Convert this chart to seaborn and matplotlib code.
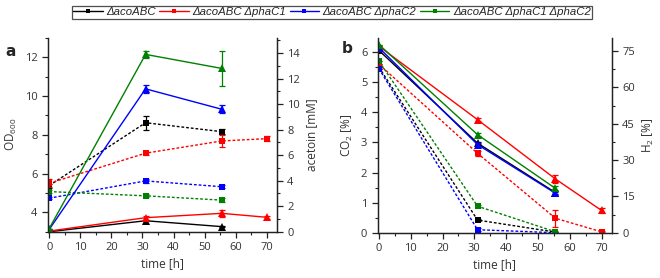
import numpy as np
import pandas as pd
import seaborn as sns
import matplotlib.pyplot as plt
from matplotlib.lines import Line2D
from matplotlib.ticker import MultipleLocator

sns.set_style("ticks")
plt.rcParams["font.family"] = ["Open Sans", "DejaVu Sans"]
plt.rcParams["mathtext.fontset"] = "custom"
plt.rcParams["mathtext.rm"] = "Open Sans"

# strains and colours
strains = ["\u0394acoABC", "\u0394acoABC \u0394phaC1", "\u0394acoABC \u0394phaC2",
           "\u0394acoABC \u0394phaC1 \u0394phaC2"]
colors = ["#000000", "#ff0000", "#0000ff", "#008000"]

# sampling times (h)
t3 = [0, 31, 55.5]
t4 = [0, 31, 55.5, 70]
times = [t3, t4, t3, t3]

# panel a - OD600 (dotted, squares, left axis)
od = [[5.38, 8.62, 8.16],
      [5.5, 7.05, 7.68, 7.8],
      [4.73, 5.62, 5.32],
      [5.07, 4.85, 4.63]]
od_err = [[0.1, 0.36, 0.12],
          [0.2, 0.08, 0.32, 0.12],
          [0.06, 0.12, 0.08],
          [0.06, 0.08, 0.1]]

# panel a - acetoin mM (solid, triangles, right axis)
acetoin = [[0.0, 0.86, 0.4],
           [0.05, 1.1, 1.44, 1.13],
           [0.18, 11.2, 9.6],
           [0.25, 13.9, 12.8]]
acetoin_err = [[0.0, 0.05, 0.05],
               [0.0, 0.15, 0.3, 0.12],
               [0.0, 0.3, 0.3],
               [0.0, 0.25, 1.35]]

# panel b - CO2 % (dotted, squares, left axis)
co2 = [[5.5, 0.42, 0.02],
       [5.6, 2.64, 0.48, 0.03],
       [5.45, 0.1, 0.0],
       [5.7, 0.88, 0.03]]
co2_err = [[0.0, 0.03, 0.02],
           [0.0, 0.08, 0.28, 0.02],
           [0.0, 0.05, 0.02],
           [0.0, 0.04, 0.03]]

# panel b - H2 % (solid, triangles, right axis)
h2 = [[75.3, 37.0, 16.6],
      [77.0, 46.7, 22.2, 9.2],
      [76.4, 36.4, 16.3],
      [77.7, 40.5, 18.3]]
h2_err = [[0.0, 0.5, 0.5],
          [0.0, 0.5, 1.8, 1.2],
          [0.0, 0.6, 0.6],
          [0.0, 0.6, 0.8]]

dotted = (0, (2, 1.4))
tick_col = "#333333"


def draw(ax, x, y, err, color, marker, ls, ms):
    df = pd.DataFrame({"time": x, "value": y})
    sns.lineplot(data=df, x="time", y="value", ax=ax, color=color, marker=marker,
                 markersize=ms, markeredgewidth=0, linewidth=1, linestyle=ls,
                 errorbar=None, legend=False)
    ax.errorbar(x, y, yerr=err, fmt="none", ecolor=color, elinewidth=0.9,
                capsize=2.5, capthick=0.9)


def style(ax, twin):
    for a in (ax, twin):
        a.spines["top"].set_visible(False)
        for s in a.spines.values():
            s.set_color("#222222")
            s.set_linewidth(0.9)
        a.tick_params(which="both", direction="out", colors="#222222",
                      labelcolor=tick_col, labelsize=8)
        a.tick_params(which="major", length=4, width=0.9)
        a.tick_params(which="minor", length=2.5, width=0.8)
    ax.set_xlim(-0.4, 73.2)
    ax.xaxis.set_major_locator(MultipleLocator(10))
    ax.xaxis.set_minor_locator(MultipleLocator(5))
    ax.set_xlabel("time [h]", fontsize=8.5, color=tick_col, labelpad=3)


fig = plt.figure(figsize=(6.6, 2.78), dpi=100)
ax_a = fig.add_axes([0.0727, 0.1665, 0.3466, 0.6975])
ax_a2 = ax_a.twinx()
ax_b = fig.add_axes([0.5723, 0.1629, 0.3545, 0.7001])
ax_b2 = ax_b.twinx()

for i in range(4):
    draw(ax_a, times[i], od[i], od_err[i], colors[i], "s", dotted, 4.3)
    draw(ax_a2, times[i], acetoin[i], acetoin_err[i], colors[i], "^", "-", 5.3)
    draw(ax_b, times[i], co2[i], co2_err[i], colors[i], "s", dotted, 4.3)
    draw(ax_b2, times[i], h2[i], h2_err[i], colors[i], "^", "-", 5.3)

# panel a axes
ax_a.set_ylim(3.0, 13.0)
ax_a.yaxis.set_major_locator(MultipleLocator(2))
ax_a.yaxis.set_minor_locator(MultipleLocator(1))
ax_a.set_yticks([4, 6, 8, 10, 12])
ax_a.set_ylabel("OD$_{600}$", fontsize=8.5, color=tick_col, labelpad=4)
ax_a2.set_ylim(0, 15.2)
ax_a2.yaxis.set_major_locator(MultipleLocator(2))
ax_a2.yaxis.set_minor_locator(MultipleLocator(1))
ax_a2.set_ylabel("acetoin [mM]", fontsize=8.5, color=tick_col, labelpad=4)
style(ax_a, ax_a2)

# panel b axes
ax_b.set_ylim(0, 6.47)
ax_b.yaxis.set_major_locator(MultipleLocator(1))
ax_b.yaxis.set_minor_locator(MultipleLocator(0.5))
ax_b.set_ylabel("CO$_2$ [%]", fontsize=8.5, color=tick_col, labelpad=4)
ax_b2.set_ylim(0, 80.4)
ax_b2.yaxis.set_major_locator(MultipleLocator(15))
ax_b2.yaxis.set_minor_locator(MultipleLocator(7.5))
ax_b2.set_ylabel("H$_2$ [%]", fontsize=8.5, color=tick_col, labelpad=4)
style(ax_b, ax_b2)

fig.text(0.008, 0.80, "a", fontsize=11, fontweight="bold", family="DejaVu Sans")
fig.text(0.518, 0.81, "b", fontsize=11, fontweight="bold", family="DejaVu Sans")

handles = [Line2D([], [], color=c, marker="s", markersize=3, markeredgewidth=0,
                  linewidth=1) for c in colors]
leg = fig.legend(handles, strains, loc="upper center", bbox_to_anchor=(0.503, 1.0),
                 ncol=4, frameon=True, fancybox=False, handlelength=2.6,
                 handletextpad=0.3, columnspacing=0.3, borderpad=0.15,
                 prop={"family": "Liberation Sans", "style": "italic", "size": 8.2})
leg.get_frame().set_edgecolor("#222222")
leg.get_frame().set_linewidth(0.9)

fig.savefig("out.png", dpi=100)
